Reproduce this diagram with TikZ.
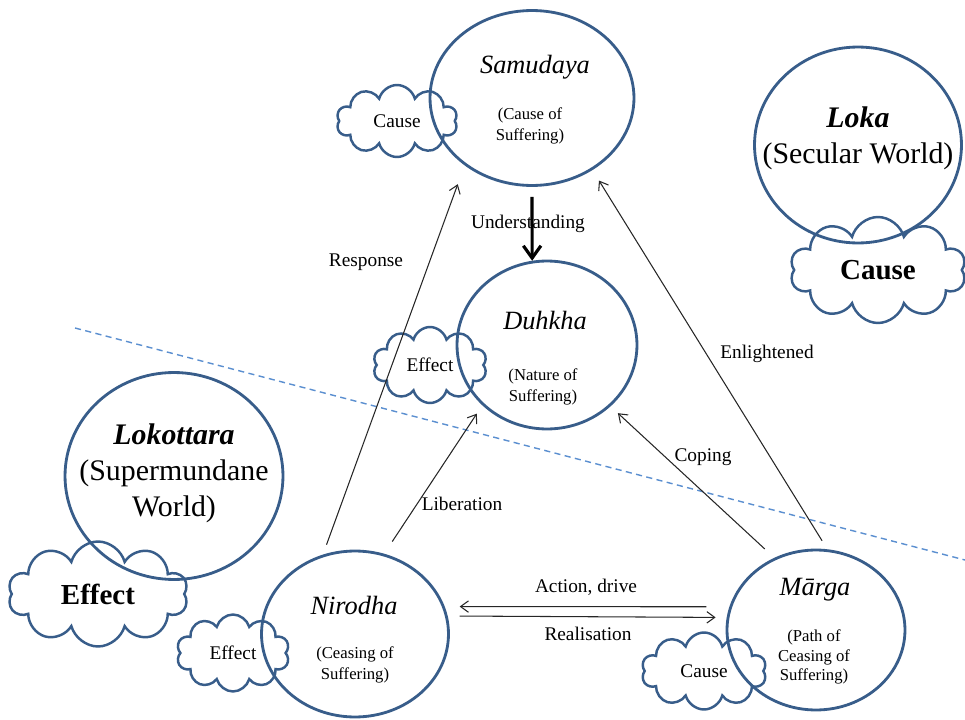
\documentclass[tikz,border=0pt]{standalone}
\usepackage{fontspec}
\setmainfont{Liberation Serif}
\usepackage{tikz}
\usetikzlibrary{arrows.meta,shapes.geometric,shapes.symbols}
\definecolor{ringblue}{HTML}{385D8A}
\definecolor{dashblue}{HTML}{5B8FD0}

\begin{document}
\begin{tikzpicture}[x=0.02cm,y=-0.02cm,every node/.style={align=center,inner sep=0pt}]
\tikzset{ring/.style={ellipse,draw=ringblue,line width=1.6pt},
  puff/.style={cloud,cloud puffs=10,cloud ignores aspect,draw=ringblue,line width=1.4pt},
  title/.style={font=\fontsize{15}{18}\selectfont\itshape},
  sub/.style={font=\fontsize{9.5}{12}\selectfont},
  world/.style={font=\fontsize{17}{20.5}\selectfont},
  tag/.style={font=\fontsize{11}{13}\selectfont},
  bigtag/.style={font=\fontsize{16.5}{20}\selectfont\bfseries},
  link/.style={-{Straight Barb[length=4.5pt,width=6.5pt]},line width=0.6pt,black!85}}
\useasboundingbox (0,0) rectangle (965,720);
% divider between the two worlds
\coordinate (divL) at (75,328);
\coordinate (divR) at (965,560);
\draw[dashblue,line width=0.8pt,dash pattern=on 3.5pt off 2.5pt] (divL)--(divR);
% the four truths
\node[ring,minimum width=4.08cm,minimum height=3.5cm] (samudaya) at (532,98) {};
\node[ring,minimum width=3.6cm,minimum height=3.36cm] (duhkha) at (547,345) {};
\node[ring,minimum width=3.74cm,minimum height=3.32cm] (nirodha) at (355,634) {};
\node[ring,minimum width=3.56cm,minimum height=3.2cm] (marga) at (816,630) {};
\node[title] (samudayaT) at (535,67) {Samudaya};
\node[sub] (samudayaS) at (530,126) {(Cause of\\Suffering)};
\node[title] (duhkhaT) at (545,321) {Duhkha};
\node[sub] (duhkhaS) at (543,387) {(Nature of\\Suffering)};
\node[title] (nirodhaT) at (354,605) {Nirodha};
\node[sub] (nirodhaS) at (355,665) {(Ceasing of\\Suffering)};
\node[title] (margaT) at (815,590) {Mārga};
\node[sub,font=\fontsize{9.5}{11}\selectfont] (margaS) at (814,657) {(Path of\\Ceasing of\\Suffering)};
% the two worlds
\node[ring,minimum width=4.14cm,minimum height=3.92cm] (loka) at (858,145) {};
\node[world] (lokaT) at (858,138) {\textbf{\textit{Loka}}\\(Secular World)};
\node[ring,minimum width=4.36cm,minimum height=4.14cm] (lokottara) at (174,476) {};
\node[world] (lokottaraT) at (174,473) {\textbf{\textit{Lokottara}}\\(Supermundane\\World)};
% clouds
\node[puff,tag,minimum width=2.42cm,minimum height=1.44cm] (causeS) at (397,121) {Cause};
\node[puff,tag,minimum width=2.28cm,minimum height=1.52cm] (effectD) at (430,365) {Effect};
\node[puff,tag,minimum width=2.26cm,minimum height=1.54cm] (effectN) at (233,653) {Effect};
\node[puff,tag,minimum width=2.5cm,minimum height=1.54cm] (causeM) at (704,671) {Cause};
\node[puff,bigtag,minimum width=3.52cm,minimum height=2.12cm] (causeL) at (878,270) {Cause};
\node[puff,bigtag,minimum width=3.6cm,minimum height=2.1cm] (effectL) at (98,594) {Effect};
% connectors
\foreach \a/\b/\s/\e in {nirodha.112/samudaya.225/6/11.4,nirodha.70/duhkha.223/8.3/5.7,
  marga.120/duhkha.316/7.4/5.7,marga.82/samudaya.310/5.7/7}{
  \draw[link,shorten <=\s pt,shorten >=\e pt] (\a)--(\b);
}
\draw[link,shorten <=13.1pt,shorten >=8.5pt] (marga.165)--(nirodha.17);
\draw[link,shorten <=6.8pt,shorten >=6.3pt] (nirodha.11)--(marga.172);
\draw[-{Straight Barb[length=7pt,width=10pt]},line width=1.8pt,shorten <=5.7pt] (samudaya.270)--(duhkha.100);
\node[tag] (understanding) at (528,224) {Understanding};
\node[tag] (response) at (366,262) {Response};
\node[tag] (enlightened) at (767,354) {Enlightened};
\node[tag] (coping) at (703,457) {Coping};
\node[tag] (liberation) at (462,504) {Liberation};
\node[tag] (action) at (586,587) {Action, drive};
\node[tag] (realisation) at (588,634) {Realisation};
\end{tikzpicture}
\end{document}
